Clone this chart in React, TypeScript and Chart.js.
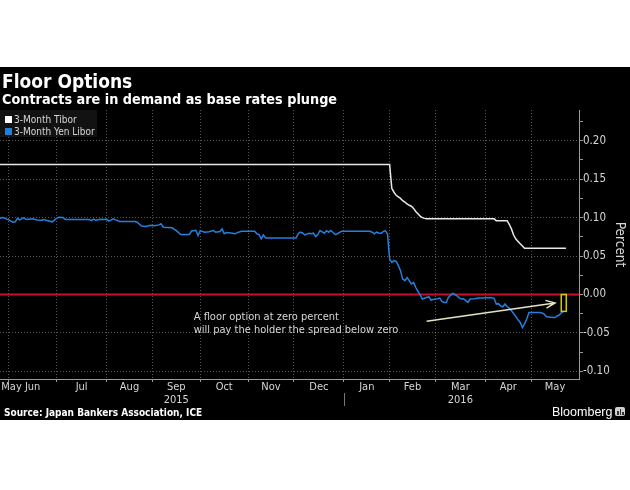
import React, { useEffect, useRef } from 'react';
import { Chart, registerables } from 'chart.js';

Chart.register(...registerables);

// ---------- data ----------
const START_DATE = '2015-05-26';
const END_DATE = '2016-06-01';

const MONTH_BOUNDARY_DATES = [
  '2015-05-26', '2015-06-01', '2015-07-01', '2015-08-01', '2015-09-01', '2015-10-01', '2015-11-01',
  '2015-12-01', '2016-01-01', '2016-02-01', '2016-03-01', '2016-04-01', '2016-05-01', '2016-06-01',
];
const MONTH_LABELS = ['May', 'Jun', 'Jul', 'Aug', 'Sep', 'Oct', 'Nov', 'Dec', 'Jan', 'Feb', 'Mar', 'Apr', 'May'];
const YEAR_LABELS = ['', '', '', '', '2015', '', '', '', '', '', '2016', '', ''];
const YEAR_BREAK_DATE = '2016-01-01';

const Y_TICK_VALUES = [-0.1, -0.075, -0.05, -0.025, 0, 0.025, 0.05, 0.075, 0.1, 0.125, 0.15, 0.175, 0.2, 0.225];

const TIBOR_DATES = [
  '2015-05-26', '2016-02-01', '2016-02-02', '2016-02-03', '2016-02-04', '2016-02-05', '2016-02-08',
  '2016-02-09', '2016-02-10', '2016-02-11', '2016-02-12', '2016-02-15', '2016-02-16', '2016-02-17',
  '2016-02-18', '2016-02-19', '2016-02-22', '2016-02-23', '2016-02-24', '2016-02-25', '2016-04-07',
  '2016-04-08', '2016-04-15', '2016-04-18', '2016-04-19', '2016-04-20', '2016-04-21', '2016-04-22',
  '2016-04-25', '2016-04-26', '2016-04-27', '2016-05-24',
];
const TIBOR_VALUES = [
  0.169, 0.169, 0.138, 0.133, 0.129, 0.127, 0.125,
  0.122, 0.120, 0.118, 0.116, 0.1148, 0.112, 0.108,
  0.105, 0.102, 0.100, 0.099, 0.0985, 0.0984, 0.0984,
  0.096, 0.096, 0.091, 0.085, 0.077, 0.072, 0.069,
  0.066, 0.063, 0.060, 0.060,
];

const LIBOR_DATES = [
  '2015-05-26', '2015-05-27', '2015-05-28', '2015-05-29',
  '2015-06-01', '2015-06-03', '2015-06-04', '2015-06-05', '2015-06-08', '2015-06-10', '2015-06-11', '2015-06-12',
  '2015-06-16', '2015-06-18', '2015-06-22', '2015-06-23', '2015-06-25', '2015-06-29',
  '2015-07-01', '2015-07-02', '2015-07-06', '2015-07-07', '2015-07-22', '2015-07-23', '2015-07-24', '2015-07-27',
  '2015-07-29', '2015-07-31',
  '2015-08-03', '2015-08-04', '2015-08-06', '2015-08-07', '2015-08-11', '2015-08-20', '2015-08-21', '2015-08-25',
  '2015-08-27', '2015-08-31',
  '2015-09-02', '2015-09-04', '2015-09-07', '2015-09-08', '2015-09-14', '2015-09-16', '2015-09-18', '2015-09-24',
  '2015-09-25', '2015-09-28', '2015-09-29', '2015-09-30',
  '2015-10-01', '2015-10-05', '2015-10-07', '2015-10-09', '2015-10-12', '2015-10-14', '2015-10-15', '2015-10-16',
  '2015-10-19', '2015-10-21', '2015-10-23', '2015-10-26', '2015-10-28',
  '2015-11-05', '2015-11-06', '2015-11-09', '2015-11-10', '2015-11-11', '2015-11-12',
  '2015-12-02', '2015-12-03', '2015-12-04', '2015-12-07', '2015-12-08', '2015-12-10', '2015-12-11', '2015-12-14',
  '2015-12-15', '2015-12-16', '2015-12-17', '2015-12-18', '2015-12-21', '2015-12-22', '2015-12-23', '2015-12-24',
  '2015-12-28', '2015-12-29', '2015-12-31',
  '2016-01-19', '2016-01-20', '2016-01-21', '2016-01-22', '2016-01-25', '2016-01-26', '2016-01-27', '2016-01-28',
  '2016-01-29',
  '2016-02-01', '2016-02-02', '2016-02-03', '2016-02-04', '2016-02-05', '2016-02-08', '2016-02-09', '2016-02-10',
  '2016-02-11', '2016-02-12', '2016-02-15', '2016-02-16', '2016-02-17', '2016-02-18', '2016-02-19', '2016-02-22',
  '2016-02-23', '2016-02-24', '2016-02-25', '2016-02-26', '2016-02-29',
  '2016-03-01', '2016-03-02', '2016-03-03', '2016-03-04', '2016-03-07', '2016-03-08', '2016-03-09', '2016-03-10',
  '2016-03-11', '2016-03-14', '2016-03-15', '2016-03-16', '2016-03-17', '2016-03-18', '2016-03-21', '2016-03-22',
  '2016-03-23', '2016-03-25', '2016-03-29', '2016-03-31',
  '2016-04-05', '2016-04-07', '2016-04-08', '2016-04-11', '2016-04-12', '2016-04-13', '2016-04-14', '2016-04-15',
  '2016-04-18', '2016-04-19', '2016-04-20', '2016-04-21', '2016-04-22', '2016-04-25', '2016-04-26', '2016-04-27',
  '2016-04-28', '2016-04-29',
  '2016-05-02', '2016-05-06', '2016-05-09', '2016-05-10', '2016-05-11', '2016-05-13', '2016-05-16', '2016-05-17',
  '2016-05-18', '2016-05-19', '2016-05-20', '2016-05-23',
];
const LIBOR_VALUES = [
  0.0990, 0.1000, 0.0995, 0.0980,
  0.0970, 0.0940, 0.0945, 0.0990, 0.0970, 0.1000, 0.0975, 0.0980,
  0.0984, 0.0970, 0.0965, 0.0975, 0.0960, 0.0945,
  0.0990, 0.1005, 0.1000, 0.0975, 0.0975, 0.0960, 0.0980, 0.0965,
  0.0978, 0.0975,
  0.0980, 0.0955, 0.0985, 0.0970, 0.0950, 0.0950, 0.0940, 0.0890,
  0.0885, 0.0900,
  0.0893, 0.0905, 0.0920, 0.0875, 0.0867, 0.0830, 0.0780, 0.0780,
  0.0825, 0.0830, 0.0835, 0.0767,
  0.0830, 0.0810, 0.0815, 0.0832, 0.0810, 0.0820, 0.0853, 0.0790,
  0.0805, 0.0800, 0.0789, 0.0805, 0.0823,
  0.0823, 0.0790, 0.0780, 0.0723, 0.0775, 0.0736,
  0.0736, 0.0790, 0.0810, 0.0800, 0.0775, 0.0795, 0.0789, 0.0797,
  0.0754, 0.0780, 0.0832, 0.0815, 0.0797, 0.0830, 0.0810, 0.0832,
  0.0780, 0.0790, 0.0823,
  0.0823, 0.0810, 0.0788, 0.0810, 0.0800, 0.0795, 0.0818, 0.0830,
  0.0790,
  0.0460, 0.0418, 0.0440, 0.0430, 0.0375, 0.0310, 0.0200, 0.0180,
  0.0220, 0.0180, 0.0136, 0.0157, 0.0090, 0.0040, -0.0004, -0.0060,
  -0.0050, -0.0040, -0.0030, -0.0073, -0.0065,
  -0.0060, -0.0055, -0.0047, -0.0090, -0.0104, -0.0104, -0.0040, -0.0010,
  0.0013, 0.0000, -0.0020, -0.0045, -0.0060, -0.0055, -0.0080, -0.0104,
  -0.0060, -0.0055, -0.0047, -0.0045,
  -0.0039, -0.0050, -0.0125, -0.0120, -0.0150, -0.0160, -0.0125, -0.0160,
  -0.0180, -0.0213, -0.0250, -0.0290, -0.0330, -0.0365, -0.0430, -0.0380,
  -0.0320, -0.0235,
  -0.0235, -0.0235, -0.0240, -0.0256, -0.0290, -0.0295, -0.0300, -0.0300,
  -0.0280, -0.0265, -0.0235, -0.0220,
];

// annotation (in data coordinates)
const ANNOTATION_LINES = ['A floor option at zero percent', 'will pay the holder the spread below zero'];
const ANNOTATION_DATE = '2015-09-28';
const ANNOTATION_VALUE = -0.030;
const ARROW_FROM_DATE = '2016-02-24';
const ARROW_FROM_VALUE = -0.035;
const ARROW_TO_DATE = '2016-05-17';
const ARROW_TO_VALUE = -0.011;

// ---------- helpers ----------
const DAY_MS = 86400000;
function toUTC(s: string) {
  const [y, m, d] = s.split('-').map(Number);
  return Date.UTC(y, m - 1, d);
}
const START_MS = toUTC(START_DATE);
// number of weekdays from START_DATE up to (not including) the date -> business-day axis
function bizIndex(s: string) {
  const t = toUTC(s);
  let n = 0;
  for (let ms = START_MS; ms < t; ms += DAY_MS) {
    const wd = new Date(ms).getUTCDay();
    if (wd !== 0 && wd !== 6) n++;
  }
  return n;
}

const FONT = "'DejaVu Sans Condensed', 'DejaVu Sans', sans-serif";
const AXIS_COLOR = '#9a9a9a';
const GRID_COLOR = 'rgba(255,255,255,0.34)';
const LABEL_COLOR = '#d6d6d6';
const TIBOR_COLOR = '#e8e8e8';
const LIBOR_COLOR = '#2480de';
const ZERO_COLOR = '#c8102e';
const ARROW_COLOR = '#e4e4c4';
const BOX_COLOR = '#d8c800';
const EDGE_LABEL_INSET = 5.3; // business days, keeps the first partial-month label inside

const X_MIN = 0;
const X_MAX = bizIndex(END_DATE);
const BOUNDARIES = MONTH_BOUNDARY_DATES.map(bizIndex);

type XTick = { value: number; boundary: boolean; text: string | string[] };
function buildXTicks(): XTick[] {
  const ticks: XTick[] = [];
  for (let i = 1; i < BOUNDARIES.length - 1; i++) ticks.push({ value: BOUNDARIES[i], boundary: true, text: '' });
  for (let i = 0; i < MONTH_LABELS.length; i++) {
    const mid = Math.max((BOUNDARIES[i] + BOUNDARIES[i + 1]) / 2, X_MIN + EDGE_LABEL_INSET);
    const text = YEAR_LABELS[i] ? [MONTH_LABELS[i], YEAR_LABELS[i]] : MONTH_LABELS[i];
    ticks.push({ value: mid, boundary: false, text });
  }
  ticks.sort((a, b) => a.value - b.value);
  return ticks;
}
const isMajorY = (v: number) => Math.abs(v * 20 - Math.round(v * 20)) < 1e-6;

const overlayPlugin = {
  id: 'overlay',
  beforeDatasetsDraw(chart: any) {
    const { ctx, chartArea, scales } = chart;
    const y0 = scales.y.getPixelForValue(0);
    ctx.save();
    ctx.strokeStyle = ZERO_COLOR;
    ctx.lineWidth = 2;
    ctx.beginPath();
    ctx.moveTo(chartArea.left, y0);
    ctx.lineTo(chartArea.right, y0);
    ctx.stroke();
    ctx.restore();
  },
  afterDatasetsDraw(chart: any) {
    const { ctx, scales } = chart;
    const xs = scales.x;
    const ys = scales.y;
    ctx.save();
    // arrow
    const x1 = xs.getPixelForValue(bizIndex(ARROW_FROM_DATE));
    const y1 = ys.getPixelForValue(ARROW_FROM_VALUE);
    const x2 = xs.getPixelForValue(bizIndex(ARROW_TO_DATE));
    const y2 = ys.getPixelForValue(ARROW_TO_VALUE);
    ctx.strokeStyle = ARROW_COLOR;
    ctx.lineWidth = 1.5;
    ctx.beginPath();
    ctx.moveTo(x1, y1);
    ctx.lineTo(x2, y2);
    const ang = Math.atan2(y2 - y1, x2 - x1);
    const head = 10;
    ctx.moveTo(x2 - head * Math.cos(ang - 0.4), y2 - head * Math.sin(ang - 0.4));
    ctx.lineTo(x2, y2);
    ctx.lineTo(x2 - head * Math.cos(ang + 0.4), y2 - head * Math.sin(ang + 0.4));
    ctx.stroke();
    // box at latest Libor print, from zero to the latest value
    const lastIdx = LIBOR_DATES.length - 1;
    const bx = xs.getPixelForValue(bizIndex(LIBOR_DATES[lastIdx]));
    const by0 = ys.getPixelForValue(0);
    const by1 = ys.getPixelForValue(LIBOR_VALUES[lastIdx]);
    ctx.strokeStyle = BOX_COLOR;
    ctx.lineWidth = 1.5;
    ctx.strokeRect(bx - 2.5, by0, 5, by1 - by0);
    // annotation text
    ctx.fillStyle = LABEL_COLOR;
    ctx.font = `11px ${FONT}`;
    ctx.textAlign = 'left';
    ctx.textBaseline = 'middle';
    const tx = xs.getPixelForValue(bizIndex(ANNOTATION_DATE));
    const ty = ys.getPixelForValue(ANNOTATION_VALUE);
    ANNOTATION_LINES.forEach((line, i) => ctx.fillText(line, tx, ty + i * 13));
    ctx.restore();
  },
  afterDraw(chart: any) {
    const { ctx, chartArea, scales } = chart;
    const x = Math.round(scales.x.getPixelForValue(bizIndex(YEAR_BREAK_DATE))) + 0.5;
    ctx.save();
    ctx.strokeStyle = '#777';
    ctx.lineWidth = 1;
    ctx.beginPath();
    ctx.moveTo(x, chartArea.bottom + 14);
    ctx.lineTo(x, chartArea.bottom + 27);
    ctx.stroke();
    ctx.restore();
  },
};

export default function App() {
  const ref = useRef<HTMLCanvasElement | null>(null);

  useEffect(() => {
    if (!ref.current) return;
    const xTicks = buildXTicks();
    const chart = new Chart(ref.current, {
      type: 'line',
      data: {
        datasets: [
          {
            label: '3-Month Tibor',
            data: TIBOR_DATES.map((d, i) => ({ x: bizIndex(d), y: TIBOR_VALUES[i] })),
            borderColor: TIBOR_COLOR,
            borderWidth: 1.5,
            pointRadius: 0,
            tension: 0,
          },
          {
            label: '3-Month Yen Libor',
            data: LIBOR_DATES.map((d, i) => ({ x: bizIndex(d), y: LIBOR_VALUES[i] })),
            borderColor: LIBOR_COLOR,
            borderWidth: 1.5,
            pointRadius: 0,
            tension: 0,
          },
        ],
      },
      options: {
        animation: false,
        responsive: false,
        layout: { padding: { top: 43, left: 0, right: 0, bottom: 0 } },
        plugins: { legend: { display: false }, tooltip: { enabled: false } },
        scales: {
          x: {
            type: 'linear',
            min: X_MIN,
            max: X_MAX,
            afterBuildTicks: (s: any) => {
              s.ticks = xTicks.map((t) => ({ ...t }));
            },
            afterFit: (s: any) => {
              s.height = 41;
            },
            grid: {
              color: (c: any) => (c.tick && c.tick.boundary ? GRID_COLOR : 'transparent'),
              tickColor: (c: any) => (c.tick && c.tick.boundary ? AXIS_COLOR : 'transparent'),
              tickLength: 3,
              lineWidth: 1,
            },
            border: { color: AXIS_COLOR, dash: [1, 2] },
            ticks: {
              autoSkip: false,
              maxRotation: 0,
              minRotation: 0,
              padding: -2,
              color: LABEL_COLOR,
              font: { family: FONT, size: 11, lineHeight: 1.23 },
              callback: (_v: any, i: number, ticks: any[]) => ticks[i].text,
            },
          },
          y: {
            type: 'linear',
            position: 'right',
            min: -0.11,
            max: 0.24,
            afterBuildTicks: (s: any) => {
              s.ticks = Y_TICK_VALUES.map((v) => ({ value: v }));
            },
            afterFit: (s: any) => {
              s.width = 51;
            },
            grid: {
              color: (c: any) => (c.tick && isMajorY(c.tick.value) ? GRID_COLOR : 'transparent'),
              tickColor: AXIS_COLOR,
              tickLength: 4,
              lineWidth: 1,
            },
            border: { color: AXIS_COLOR, dash: [1, 2] },
            ticks: {
              padding: 0,
              color: LABEL_COLOR,
              font: { family: FONT, size: 11.5 },
              callback: (v: any) => (isMajorY(Number(v)) ? Number(v).toFixed(2) : ''),
            },
            title: {
              display: true,
              text: 'Percent',
              color: LABEL_COLOR,
              font: { family: FONT, size: 13.5, lineHeight: 1.2 },
              padding: { top: 2, bottom: 0 },
            },
          },
        },
      } as any,
      plugins: [overlayPlugin],
    } as any);
    return () => chart.destroy();
  }, []);

  const text = { position: 'absolute' as const, whiteSpace: 'nowrap' as const, lineHeight: 1 };

  return (
    <div style={{ position: 'fixed', left: 0, top: 0, width: 630, height: 490, background: '#fff', overflow: 'hidden' }}>
      <div style={{ position: 'absolute', left: 0, top: 67, width: 630, height: 353, background: '#000' }} />
      <canvas
        ref={ref}
        width={630}
        height={353}
        style={{ position: 'absolute', left: 0, top: 67, width: 630, height: 353 }}
      />
      <div style={{ ...text, left: 2, top: 70, color: '#fff', font: `bold 19px ${FONT}` }}>Floor Options</div>
      <div style={{ ...text, left: 2, top: 91, color: '#fff', font: `bold 14.3px ${FONT}` }}>
        Contracts are in demand as base rates plunge
      </div>
      <div style={{ position: 'absolute', left: 0, top: 110, width: 97, height: 27, background: '#121212' }}>
        <div style={{ position: 'absolute', left: 5, top: 6, width: 7, height: 7, background: '#fff' }} />
        <div style={{ ...text, left: 14, top: 4, color: LABEL_COLOR, font: `10px ${FONT}` }}>3-Month Tibor</div>
        <div style={{ position: 'absolute', left: 5, top: 18, width: 7, height: 7, background: '#1f80e0' }} />
        <div style={{ ...text, left: 14, top: 16, color: LABEL_COLOR, font: `10px ${FONT}` }}>3-Month Yen Libor</div>
      </div>
      <div style={{ ...text, left: 4, top: 407, color: '#fff', font: `bold 10px ${FONT}` }}>
        Source: Japan Bankers Association, ICE
      </div>
      <div style={{ ...text, left: 552, top: 405, color: '#fff', font: `12.5px 'Liberation Sans', Arial, sans-serif` }}>
        Bloomberg
      </div>
      <div style={{ position: 'absolute', left: 615, top: 407, width: 10, height: 9, background: '#d0d0d0', borderRadius: 2 }}>
        <div style={{ position: 'absolute', left: 2, top: 4, width: 1.5, height: 4, background: '#333' }} />
        <div style={{ position: 'absolute', left: 4.5, top: 2, width: 1.5, height: 6, background: '#333' }} />
        <div style={{ position: 'absolute', left: 7, top: 5, width: 1.5, height: 3, background: '#333' }} />
      </div>
    </div>
  );
}
